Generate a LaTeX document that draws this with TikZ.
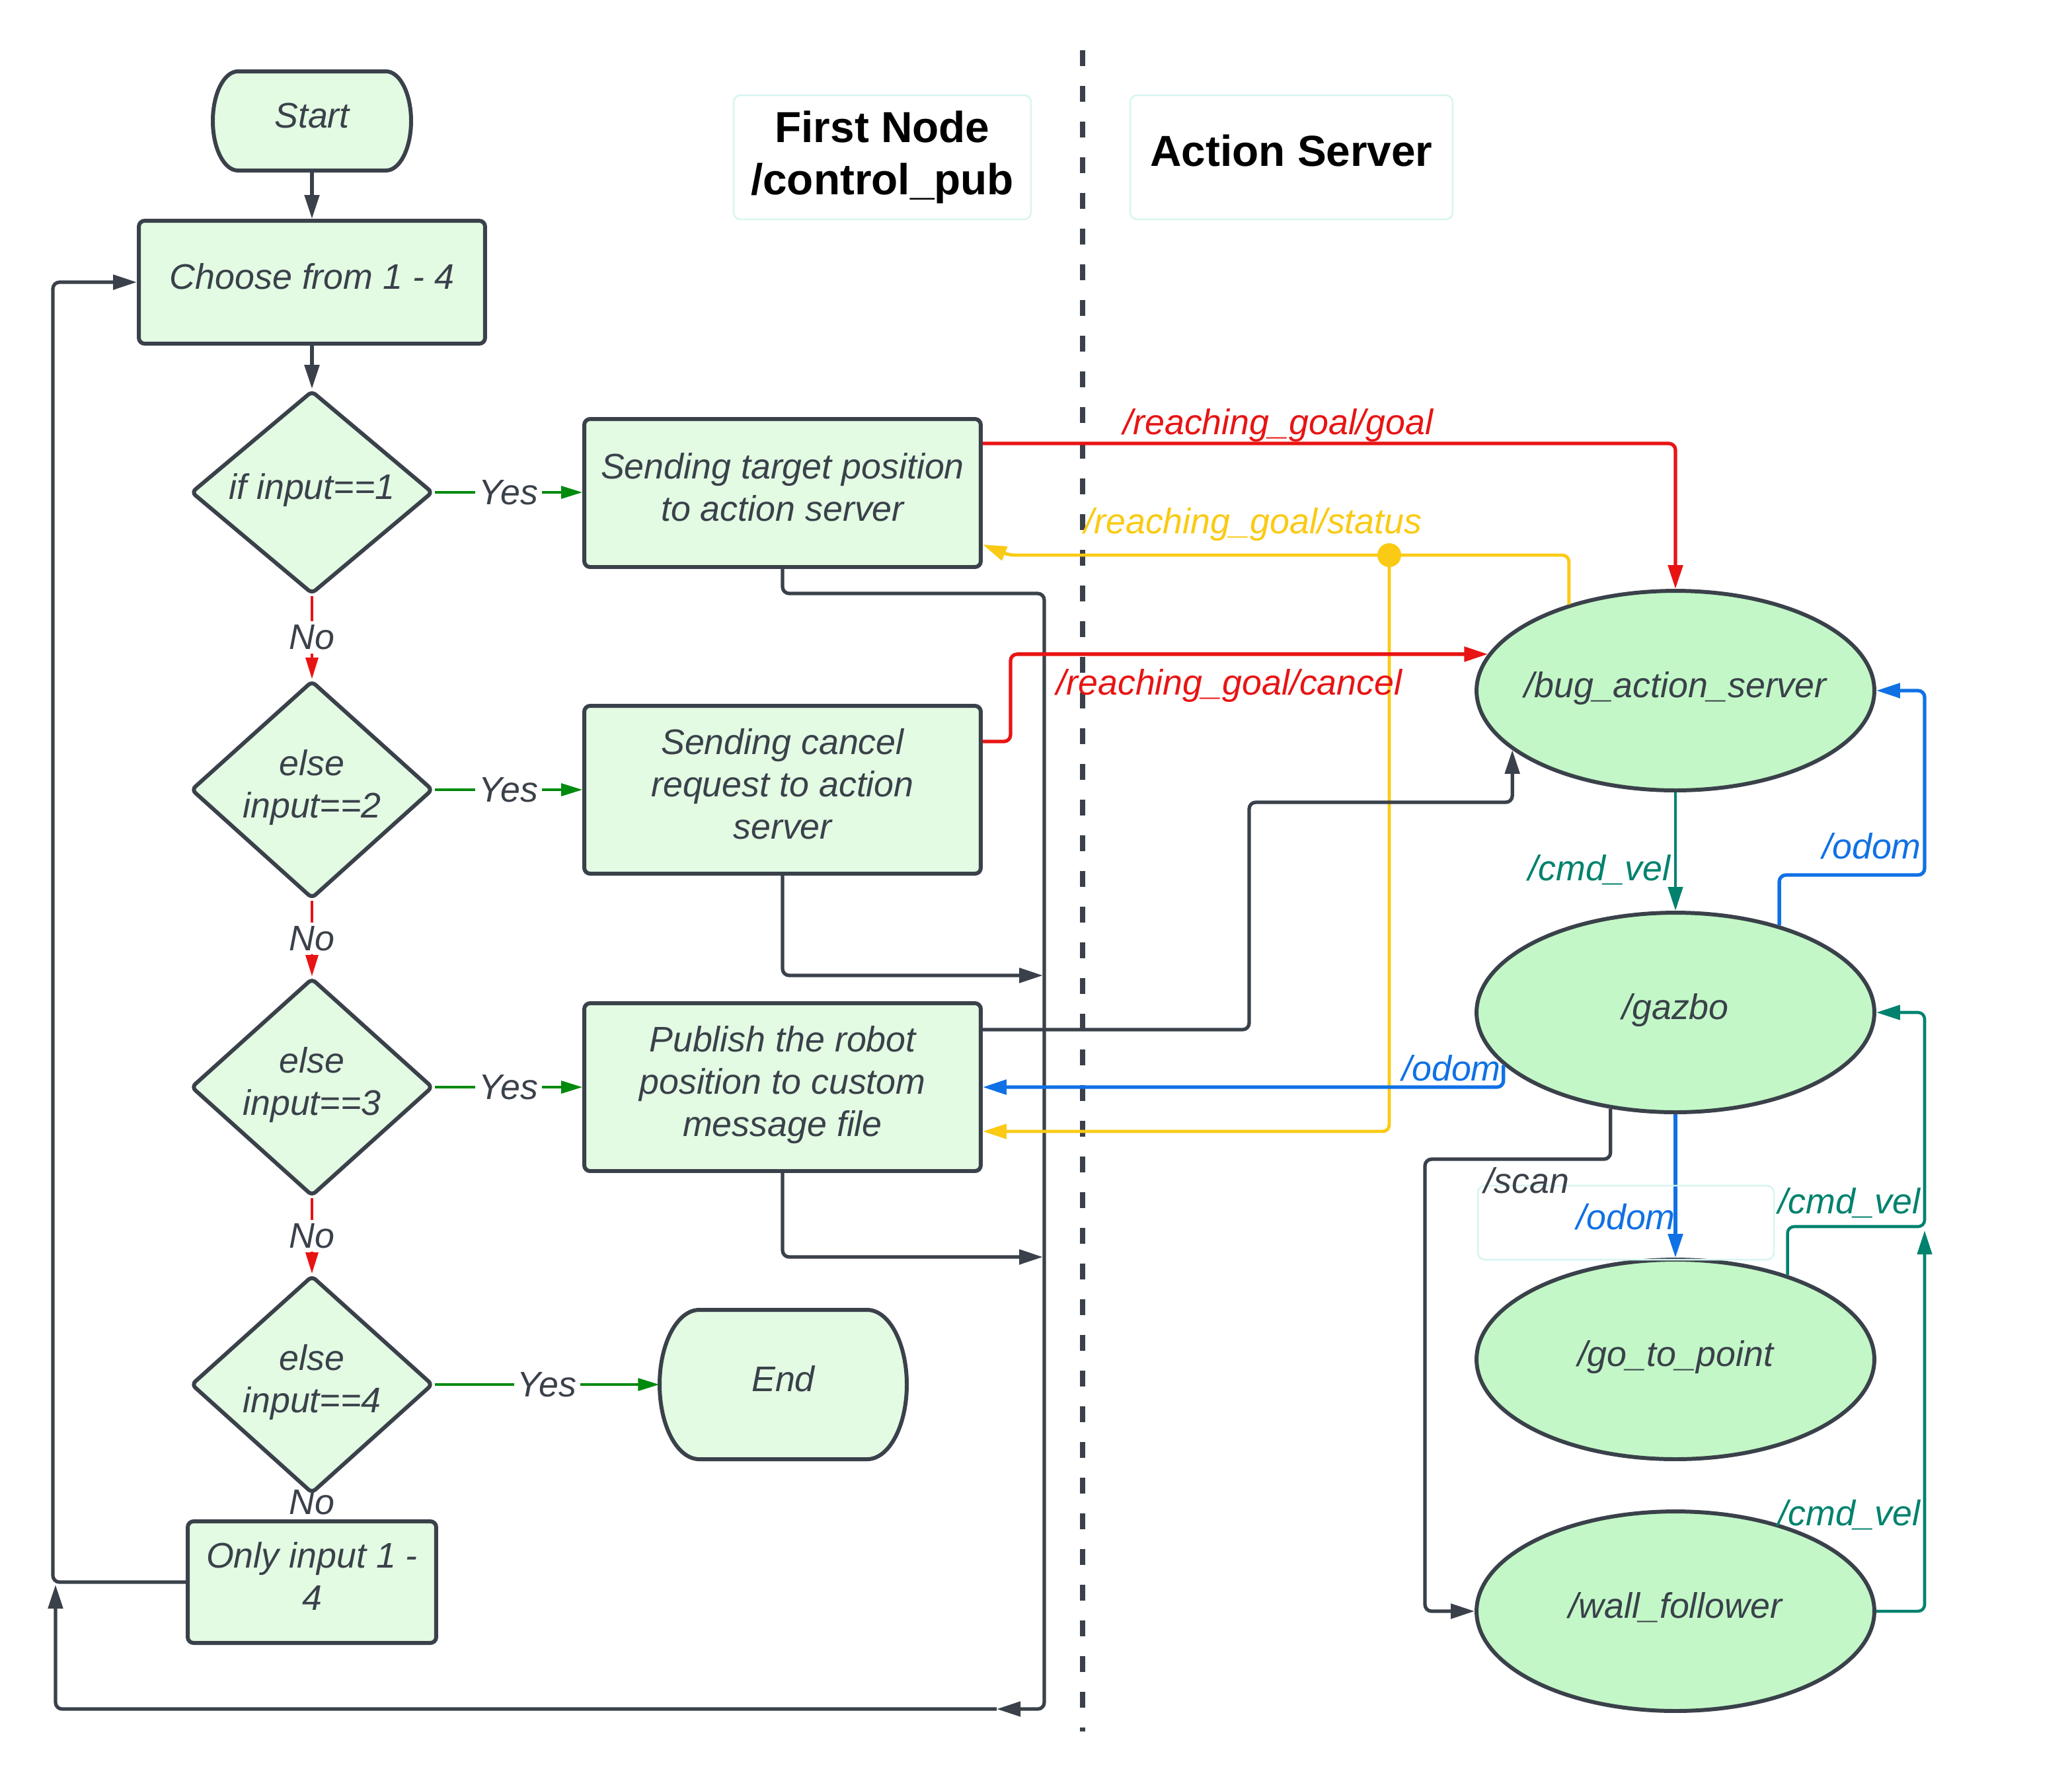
\documentclass[tikz,border=0pt]{standalone}
\usepackage{fontspec}
\setmainfont{Liberation Sans}
\usetikzlibrary{arrows.meta,shapes.geometric}
\definecolor{dk}{RGB}{58,65,74}
\definecolor{boxfill}{RGB}{227,250,227}
\definecolor{ellfill}{RGB}{195,247,199}
\definecolor{redc}{RGB}{232,20,20}
\definecolor{grnc}{RGB}{0,138,14}
\definecolor{bluc}{RGB}{16,113,229}
\definecolor{tealc}{RGB}{0,130,110}
\definecolor{yelc}{RGB}{250,202,20}
\definecolor{faint}{RGB}{214,245,240}
% terminal outline: centre x, centre y, half width, half height, end radius (picture units)
\newcommand\mystadium[5]{%
  \filldraw[draw=dk, fill=boxfill, line width=1.7pt]
    (#1-#3+#5,#2-#4) -- (#1+#3-#5,#2-#4)
    arc[start angle=90, end angle=-90, x radius=#5*0.02cm, y radius=#4*0.02cm]
    -- (#1-#3+#5,#2+#4)
    arc[start angle=270, end angle=90, x radius=#5*0.02cm, y radius=#4*0.02cm] -- cycle;}
\begin{document}
\begin{tikzpicture}[x=0.02cm,y=-0.02cm,
  font=\fontsize{15.3}{18.2}\selectfont\itshape,
  base/.style={draw=dk, line width=1.7pt, text=dk, align=center, inner sep=0pt, text depth=5pt},
  box/.style={base, rectangle, rounded corners=2.5pt, fill=boxfill},
  term/.style={rectangle, text=dk, align=center, inner sep=0pt, text depth=5pt},
  dia/.style={base, diamond, fill=boxfill, rounded corners=2pt, minimum width=3.66cm, minimum height=2.94cm},
  ell/.style={base, ellipse, fill=ellfill, minimum width=6.02cm, minimum height=3.02cm},
  titlebox/.style={draw=faint, line width=0.7pt, rounded corners=3pt, align=center, text=black,
    font=\fontsize{18.7}{22.7}\selectfont\bfseries\upshape, minimum width=4.5cm, minimum height=1.88cm},
  arr/.style={-{Triangle[length=0.36cm,width=0.22cm]}},
  sarr/.style={-{Triangle[length=0.32cm,width=0.19cm]}},
  conn/.style={draw=dk, line width=1.5pt, rounded corners=0.1cm, arr},
  yes/.style={draw=grnc, line width=0.9pt, sarr},
  no/.style={draw=redc, line width=0.9pt, sarr},
  redl/.style={draw=redc, line width=1.5pt, rounded corners=0.1cm, arr},
  yell/.style={draw=yelc, line width=1.4pt, rounded corners=0.1cm, arr},
  blul/.style={draw=bluc, line width=1.5pt, rounded corners=0.1cm, arr},
  teall/.style={draw=tealc, line width=1.3pt, rounded corners=0.1cm, arr},
  lbl/.style={text=dk, fill=white, inner sep=1.5pt},
  tlbl/.style={inner sep=1pt}
]
\useasboundingbox (0,0) rectangle (1567.5,1350);

% divider
\draw[dk, line width=2.4pt, dash pattern=on 0.24cm off 0.3cm] (819,38) -- (819,1310);

% titles
\node[titlebox] (t1) at (667.5,119) {First Node\\/control\_pub};
\node[titlebox, minimum width=4.88cm, text depth=5.7pt] (t2) at (977,119) {Action Server};

% flowchart nodes
\mystadium{236}{91.5}{75}{37.5}{19}
\node[term, minimum width=3cm, minimum height=1.5cm] (start) at (236,91.5) {Start};
\node[box, minimum width=5.24cm, minimum height=1.86cm] (choose) at (236,213.5) {Choose from 1 - 4};
\node[dia] (d1) at (236,372.5) {if input==1};
\node[dia] (d2) at (236,597.5) {else\\input==2};
\node[dia] (d3) at (236,822.5) {else\\input==3};
\node[dia] (d4) at (236,1047.5) {else\\input==4};
\node[box, minimum width=6cm, minimum height=2.24cm] (b1) at (592,373) {Sending target position\\to action server};
\node[box, minimum width=6cm, minimum height=2.54cm] (b2) at (592,597.5) {Sending cancel\\request to action\\server};
\node[box, minimum width=6cm, minimum height=2.54cm] (b3) at (592,822.5) {Publish the robot\\position to custom\\message file};
\mystadium{592.5}{1047.5}{93.5}{56.5}{30}
\node[term, minimum width=3.74cm, minimum height=2.26cm] (end) at (592.5,1047.5) {End};
\node[box, minimum width=3.76cm, minimum height=1.84cm] (only) at (236,1197) {Only input 1 -\\4};

% ROS nodes
\node[ell] (bug) at (1267.5,522.5) {\makebox[0pt]{/bug\_action\_server}};
\node[ell] (gaz) at (1267.5,766) {\makebox[0pt]{/gazbo}};
\node[ell] (gtp) at (1267.5,1028.5) {\makebox[0pt]{/go\_to\_point}};
\node[ell] (wf) at (1267.5,1219) {\makebox[0pt]{/wall\_follower}};

\node[circle, fill=yelc, minimum size=0.36cm, inner sep=0pt] (dot) at (1051,420) {};

\coordinate (busend) at (754,1293);
\coordinate (loopin) at (42,1199);
\coordinate (bus2) at (789,738);
\coordinate (bus3) at (789,951);
\coordinate (cvtip) at (1456,931);

% flow connectors
\draw[conn] (start) -- (choose);
\draw[conn] (choose) -- (d1);
\draw[yes] (d1.east) -- node[lbl]{Yes} (d1.east -| b1.west);
\draw[yes] (d2.east) -- node[lbl]{Yes} (d2.east -| b2.west);
\draw[yes] (d3.east) -- node[lbl]{Yes} (d3.east -| b3.west);
\draw[yes] (d4.east) -- node[lbl]{Yes} (d4.east -| end.west);
\draw[no] (d1) -- node[lbl]{No} (d2);
\draw[no] (d2) -- node[lbl]{No} (d3);
\draw[no] (d3) -- node[lbl]{No} (d4);
\path (d4.south) -- node[lbl, fill=none, pos=0.3]{No} (only.north);
\draw[conn] (only.west) -- (40,1197) |- (choose.west);
\draw[conn] (b1.south) |- (790,449) |- (busend);
\draw[conn] (busend) -| (loopin);
\draw[conn] (b2.south) |- (bus2);
\draw[conn] (b3.south) |- (bus3);

% topic connectors
\draw[redl] ([yshift=-0.4cm]b1.north east) -| (bug.north)
  node[tlbl, text=redc, at={(967,322)}]{/reaching\_goal/goal};
\draw[yell] (bug.141) |- (763,420) -- ([yshift=-0.78cm]b1.east)
  node[tlbl, text=yelc, at={(948,397)}]{/reaching\_goal/status};
\draw[yell] (dot.center) |- ([yshift=-0.67cm]b3.east);
\draw[redl] ([yshift=0.73cm]b2.east) -- ++(21,0) |- (bug.169)
  node[tlbl, text=redc, at={(930,519)}]{/reaching\_goal/cancel};
\draw[conn] ([yshift=0.87cm]b3.east) -| (945,607) -| (bug.200);
\draw[blul] (gaz.197) |- (b3.east) node[tlbl, text=bluc, at={(1098,808)}]{/odom};
\draw[teall] (bug.south) -- (gaz.north) node[tlbl, text=tealc, at={(1210,658)}]{/cmd\_vel};
\draw[blul] (gaz.40) |- (1456,662) |- (bug.east) node[tlbl, text=bluc, at={(1416,640)}]{/odom};
\draw[blul] (gaz.south) -- (gtp.north)
  node[draw=faint, line width=0.7pt, rounded corners=3pt, minimum width=4.48cm, minimum height=1.12cm,
       text depth=5pt, text=bluc, at={(1230,925)}]{/odom};
\draw[conn] (gaz.236) |- (1078,877) |- (wf.west) node[tlbl, text=dk, at={(1155,893)}]{/scan};
\draw[teall] (gtp.37) |- (1456,928) |- (gaz.east) node[tlbl, text=tealc, at={(1399,910)}]{/cmd\_vel};
\draw[teall] (wf.east) -| (cvtip) node[tlbl, text=tealc, at={(1399,1146)}]{/cmd\_vel};
\end{tikzpicture}
\end{document}
